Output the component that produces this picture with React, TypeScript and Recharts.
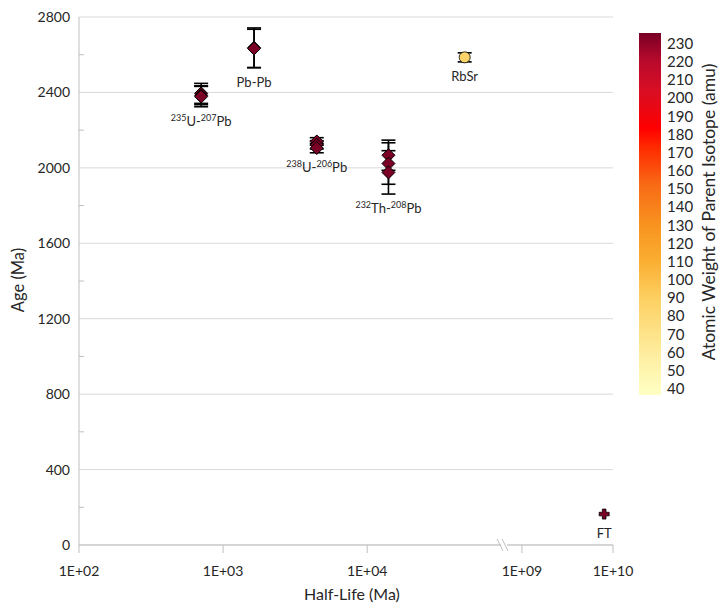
import React from "react";
import { ScatterChart, Scatter, XAxis, YAxis, CartesianGrid, ErrorBar, ReferenceDot } from "recharts";

// isotope systems
const groupNames = ["^235U-^207Pb", "Pb-Pb", "^238U-^206Pb", "^232Th-^208Pb", "RbSr", "FT"];
const halfLives = [704, 1640, 4468, 14050, 47500, 8.0e9]; // Ma
const parentAmu = [235, 235, 238, 232, 87, 238];
const markerKinds = ["diamond", "diamond", "diamond", "diamond", "circle", "plus"];
const ages = [
  [2395, 2385, 2378],
  [2637, 2633],
  [2140, 2122, 2105],
  [2067, 2023, 1976],
  [2586],
  [164],
];
const ageErrors = [
  [53, 50, 54],
  [105, 102],
  [20, 22, 25],
  [80, 110, 115],
  [24],
  [0],
];

const xTickHalfLives = [1e2, 1e3, 1e4, 1e9, 1e10];
const xTickLabels = ["1E+02", "1E+03", "1E+04", "1E+09", "1E+10"];
const yTicks = [0, 200, 400, 600, 800, 1000, 1200, 1400, 1600, 1800, 2000, 2200, 2400, 2600, 2800];
const yGridLines = [0, 400, 800, 1200, 1600, 2000, 2400, 2800];
const colorTicks = [40, 50, 60, 70, 80, 90, 100, 110, 120, 130, 140, 150, 160, 170, 180, 190, 200, 210, 220, 230];
const colorStops: [number, string][] = [
  [40, "#FFFFC4"],
  [60, "#FEEFA2"],
  [90, "#FDD163"],
  [110, "#FAAE32"],
  [130, "#F8921F"],
  [150, "#F86B16"],
  [170, "#FF2A00"],
  [180, "#FF0000"],
  [200, "#D80E25"],
  [215, "#B90A2C"],
  [230, "#7A0026"],
];

const FONT = "Lato, 'Open Sans', sans-serif";
const TEXT = "#262626";
const AXIS = "#BFBFBF";
const BREAK_POS = 2.95;
const Y_TICK_MARGIN = 9;

// broken log axis: 1E+02..1E+05 then 1E+09..1E+10 on a shorter decade
const axisPos = (hl: number) => {
  const lg = Math.log10(hl);
  return lg <= 6 ? lg - 2 : 3.074 + (lg - 9) * 0.632;
};

const hex = (c: string) => [1, 3, 5].map((i) => parseInt(c.slice(i, i + 2), 16));
const amuColor = (v: number) => {
  for (let i = 1; i < colorStops.length; i++) {
    const [v1, c1] = colorStops[i];
    const [v0, c0] = colorStops[i - 1];
    if (v <= v1) {
      const t = (v - v0) / (v1 - v0);
      const a = hex(c0);
      const b = hex(c1);
      return `rgb(${a.map((x, k) => Math.round(x + (b[k] - x) * t)).join(",")})`;
    }
  }
  return colorStops[colorStops.length - 1][1];
};

const groups = groupNames.map((name, g) => ({
  name,
  kind: markerKinds[g],
  color: amuColor(parentAmu[g]),
  points: ages[g].map((a, i) => ({ x: axisPos(halfLives[g]), y: a, err: ageErrors[g][i] })),
}));

const labelData = groups.map((g, i) => ({
  x: axisPos(halfLives[i]),
  y: Math.min(...g.points.map((p) => p.y - p.err)),
  name: g.name,
  pad: g.kind === "plus" ? 5 : 0,
}));

const richText = (label: string) => {
  const parts = label.split(/(\^\d+)/).filter(Boolean);
  let raised = false;
  return parts.map((p, i) => {
    if (p.startsWith("^")) {
      const dy = raised ? 0 : -5;
      raised = true;
      return (
        <tspan key={i} dy={dy} fontSize={9}>
          {p.slice(1)}
        </tspan>
      );
    }
    const dy = raised ? 5 : 0;
    raised = false;
    return (
      <tspan key={i} dy={dy}>
        {p}
      </tspan>
    );
  });
};

const makeMarker = (kind: string, color: string) => (props: any) => {
  const { cx, cy } = props;
  if (kind === "circle") {
    return <circle cx={cx} cy={cy} r={5.5} fill={color} stroke="#000" strokeWidth={0.8} />;
  }
  if (kind === "plus") {
    const a = 5;
    const w = 1.8;
    const d = `M${cx - w},${cy - a}H${cx + w}V${cy - w}H${cx + a}V${cy + w}H${cx + w}V${cy + a}H${cx - w}V${cy + w}H${cx - a}V${cy - w}H${cx - w}Z`;
    return <path d={d} fill={color} stroke="#000" strokeWidth={0.8} />;
  }
  const r = 6.5;
  return (
    <path
      d={`M${cx},${cy - r}L${cx + r},${cy}L${cx},${cy + r}L${cx - r},${cy}Z`}
      fill={color}
      stroke="#000"
      strokeWidth={1}
    />
  );
};

const LabelShape = (props: any) => {
  const { cx, cy, payload } = props;
  return (
    <text x={cx} y={cy + 19 + payload.pad} textAnchor="middle" fontSize={13} fill={TEXT} fontFamily={FONT}>
      {richText(payload.name)}
    </text>
  );
};

const YTick = (props: any) => {
  const { x, y, payload } = props;
  const v = payload.value;
  const axisX = x + Y_TICK_MARGIN;
  if (v % 400 !== 0) {
    return <line x1={axisX} x2={axisX + 5} y1={y} y2={y} stroke={AXIS} />;
  }
  return (
    <text x={x} y={y} dy={5} textAnchor="end" fontSize={14} fill={TEXT} fontFamily={FONT}>
      {v}
    </text>
  );
};

const BreakMark = (props: any) => {
  const { cx, cy } = props;
  return (
    <g>
      <rect x={cx - 3} y={cy - 2} width={6} height={4} fill="#fff" />
      <line x1={cx - 7} y1={cy - 6} x2={cx - 1} y2={cy + 6} stroke={AXIS} />
      <line x1={cx - 2} y1={cy - 6} x2={cx + 4} y2={cy + 6} stroke={AXIS} />
    </g>
  );
};

const ColorBar = () => {
  const top = 33;
  const height = 362;
  const labelY = (v: number) => 44 + ((230 - v) * 345) / 190;
  return (
    <svg width={720} height={610} style={{ position: "absolute", left: 0, top: 0, pointerEvents: "none" }}>
      <defs>
        <linearGradient id="amu" x1="0" y1="1" x2="0" y2="0">
          {colorStops.map(([v, c]) => (
            <stop key={v} offset={(v - 40) / 190} stopColor={c} />
          ))}
        </linearGradient>
      </defs>
      <rect x={639} y={top} width={22} height={height} fill="url(#amu)" />
      {colorTicks.map((v) => (
        <text key={v} x={667} y={labelY(v)} dy={5} fontSize={15} fill={TEXT} fontFamily={FONT}>
          {v}
        </text>
      ))}
      <text
        x={709}
        y={212}
        transform="rotate(-90 709 212)"
        textAnchor="middle"
        dy={6}
        fontSize={17.5}
        fill={TEXT}
        fontFamily={FONT}
      >
        Atomic Weight of Parent Isotope (amu)
      </text>
      <text x={18} y={280} transform="rotate(-90 18 280)" textAnchor="middle" dy={6} fontSize={16.5} fill={TEXT} fontFamily={FONT}>
        Age (Ma)
      </text>
      <text x={352} y={600} textAnchor="middle" fontSize={16} fill={TEXT} fontFamily={FONT}>
        Half-Life (Ma)
      </text>
    </svg>
  );
};

export default function App() {
  const xTicks = xTickHalfLives.map(axisPos);
  return (
    <div style={{ position: "absolute", left: 0, top: 0, width: 720, height: 610, background: "#fff" }}>
      <ScatterChart width={720} height={610} margin={{ top: 17, right: 107, bottom: 20, left: 19 }}>
        <CartesianGrid horizontal vertical={false} horizontalValues={yGridLines} stroke="#D9D9D9" />
        <XAxis
          type="number"
          dataKey="x"
          domain={[0, axisPos(1e10)]}
          ticks={xTicks}
          interval={0}
          tickFormatter={(v: number) => xTickLabels[xTicks.indexOf(v)] ?? ""}
          height={45}
          stroke={AXIS}
          tickSize={8}
          tickMargin={13}
          tick={{ fill: TEXT, fontSize: 14, fontFamily: FONT }}
        />
        <YAxis
          type="number"
          dataKey="y"
          domain={[0, 2800]}
          ticks={yTicks}
          interval={0}
          width={60}
          stroke={AXIS}
          tickLine={false}
          tickSize={0}
          tickMargin={Y_TICK_MARGIN}
          tick={YTick}
        />
        {groups.map((g) => (
          <Scatter key={g.name} data={g.points} shape={makeMarker(g.kind, g.color)} isAnimationActive={false}>
            {g.points.some((p) => p.err > 0) && (
              <ErrorBar dataKey="err" direction="y" width={7} stroke="#000" strokeWidth={1.6} />
            )}
          </Scatter>
        ))}
        <Scatter data={labelData} shape={LabelShape} isAnimationActive={false} />
        <ReferenceDot x={BREAK_POS} y={0} ifOverflow="visible" shape={BreakMark} />
      </ScatterChart>
      <ColorBar />
    </div>
  );
}
